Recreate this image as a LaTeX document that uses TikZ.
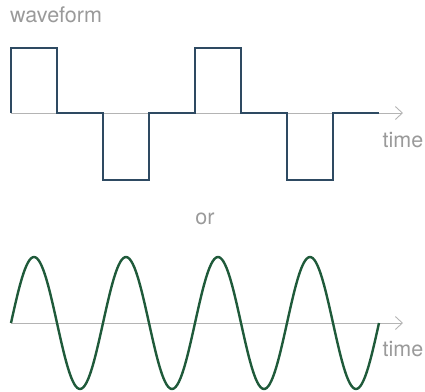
\documentclass[tikz,border=0pt]{standalone}
\usepackage{fontspec}
\setmainfont{TeX Gyre Heros}
\usepackage{xcolor}
\usetikzlibrary{positioning, arrows.meta}

\definecolor{squareblue}{HTML}{2E4A62}
\definecolor{sinegreen}{HTML}{1F5A3A}
\definecolor{axisgray}{HTML}{B4B4B4}
\definecolor{labelgray}{HTML}{9A9A9A}

\begin{document}
\begin{tikzpicture}[
        x=1bp, y=-1bp,
        axis/.style={draw=axisgray, line width=1bp, -{Straight Barb[length=7bp, width=13bp, line width=0.9bp]}},
        label/.style={text=labelgray, font=\fontsize{21.5bp}{25bp}\selectfont, inner sep=0pt},
        square/.style={draw=squareblue, line width=2bp, line join=miter},
        sine/.style={draw=sinegreen, line width=2.4bp}
    ]
        \useasboundingbox (0,0) rectangle (425,392);

        % Labels
        \node[label, anchor=base west] (title) at (10,22) {waveform};
        \node[label, anchor=base] (or) at (205,224) {or};

        % Axes
        \coordinate (sqStart) at (11,113);
        \coordinate (sqEnd) at (403,113);
        \coordinate (sinStart) at (11,323);
        \coordinate (sinEnd) at (403,323);
        \draw[axis] (sqStart) -- (sqEnd);
        \draw[axis] (sinStart) -- (sinEnd);
        \node[label, anchor=base] (sqTime) at (403,147) {time};
        \node[label, anchor=base] (sinTime) at (403,356) {time};

        % Square wave
        \draw[square] (sqStart) -- (11,48) -- (57,48) -- (57,113) -- (103,113)
            -- (103,180) -- (149,180) -- (149,113) -- (195,113) -- (195,48)
            -- (241,48) -- (241,113) -- (287,113) -- (287,180) -- (333,180)
            -- (333,113) -- (379,113);

        % Sine wave (4 periods of 92)
        \draw[sine] plot[domain=0:1440, samples=240, smooth] ({11+\x/360*92}, {323-66*sin(\x)});
    \end{tikzpicture}
\end{document}
